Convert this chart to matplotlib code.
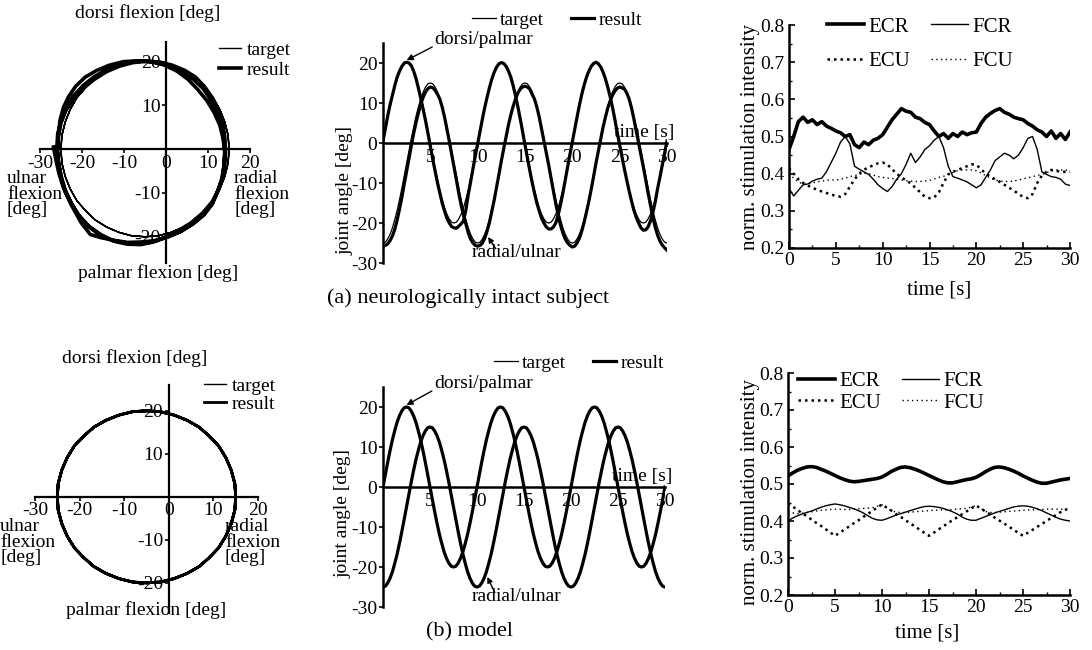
import numpy as np
import matplotlib
matplotlib.use("Agg")
import matplotlib.pyplot as plt

plt.rcParams['font.family'] = ['Liberation Serif', 'DejaVu Serif']
plt.rcParams['font.size'] = 14
plt.rcParams['axes.unicode_minus'] = False

# sample times [s]: joint angles every 0.25 s, stimulation every 0.5 s
t_ang = np.arange(0, 30.001, 0.25)
t_stim = np.arange(0, 30.001, 0.5)

# target trajectory (same for subject and model) [deg]
target_dp = [0.0, 3.1, 6.2, 9.1, 11.8, 14.1, 16.2, 17.8, 19.0, 19.8,
             20.0, 19.8, 19.0, 17.8, 16.2, 14.1, 11.8, 9.1, 6.2, 3.1,
             0.0, -3.1, -6.2, -9.1, -11.8, -14.1, -16.2, -17.8, -19.0, -19.8,
             -20.0, -19.8, -19.0, -17.8, -16.2, -14.1, -11.8, -9.1, -6.2, -3.1,
             0.0, 3.1, 6.2, 9.1, 11.8, 14.1, 16.2, 17.8, 19.0, 19.8,
             20.0, 19.8, 19.0, 17.8, 16.2, 14.1, 11.8, 9.1, 6.2, 3.1,
             0.0, -3.1, -6.2, -9.1, -11.8, -14.1, -16.2, -17.8, -19.0, -19.8,
             -20.0, -19.8, -19.0, -17.8, -16.2, -14.1, -11.8, -9.1, -6.2, -3.1,
             0.0, 3.1, 6.2, 9.1, 11.8, 14.1, 16.2, 17.8, 19.0, 19.8,
             20.0, 19.8, 19.0, 17.8, 16.2, 14.1, 11.8, 9.1, 6.2, 3.1,
             0.0, -3.1, -6.2, -9.1, -11.8, -14.1, -16.2, -17.8, -19.0, -19.8,
             -20.0, -19.8, -19.0, -17.8, -16.2, -14.1, -11.8, -9.1, -6.2, -3.1,
             0.0]
target_ru = [-25.0, -24.8, -24.0, -22.8, -21.2, -19.1, -16.8, -14.1, -11.2, -8.1,
             -5.0, -1.9, 1.2, 4.1, 6.8, 9.1, 11.2, 12.8, 14.0, 14.8,
             15.0, 14.8, 14.0, 12.8, 11.2, 9.1, 6.8, 4.1, 1.2, -1.9,
             -5.0, -8.1, -11.2, -14.1, -16.8, -19.1, -21.2, -22.8, -24.0, -24.8,
             -25.0, -24.8, -24.0, -22.8, -21.2, -19.1, -16.8, -14.1, -11.2, -8.1,
             -5.0, -1.9, 1.2, 4.1, 6.8, 9.1, 11.2, 12.8, 14.0, 14.8,
             15.0, 14.8, 14.0, 12.8, 11.2, 9.1, 6.8, 4.1, 1.2, -1.9,
             -5.0, -8.1, -11.2, -14.1, -16.8, -19.1, -21.2, -22.8, -24.0, -24.8,
             -25.0, -24.8, -24.0, -22.8, -21.2, -19.1, -16.8, -14.1, -11.2, -8.1,
             -5.0, -1.9, 1.2, 4.1, 6.8, 9.1, 11.2, 12.8, 14.0, 14.8,
             15.0, 14.8, 14.0, 12.8, 11.2, 9.1, 6.8, 4.1, 1.2, -1.9,
             -5.0, -8.1, -11.2, -14.1, -16.8, -19.1, -21.2, -22.8, -24.0, -24.8,
             -25.0]

# (a) neurologically intact subject: measured joint angles [deg]
intact_dp = [0.5, 3.6, 6.8, 9.6, 12.0, 14.4, 16.5, 18.0, 19.2, 20.0,
             20.2, 20.0, 19.3, 17.9, 16.0, 13.6, 11.0, 8.3, 5.5, 2.4,
             -0.8, -4.0, -7.0, -9.9, -12.5, -15.0, -17.0, -18.8, -20.0, -20.9,
             -21.2, -21.3, -20.8, -20.2, -19.5, -16.8, -13.0, -9.8, -6.5, -3.2,
             -0.2, 2.9, 6.0, 8.9, 11.5, 13.9, 16.0, 17.7, 19.0, 19.8,
             20.1, 19.9, 19.2, 18.0, 16.5, 14.3, 11.8, 9.0, 6.0, 2.8,
             -0.5, -3.7, -6.8, -9.8, -12.5, -15.0, -17.0, -18.8, -20.0, -21.0,
             -21.5, -21.5, -21.0, -20.0, -18.0, -15.5, -12.5, -9.3, -6.0, -2.8,
             0.3, 3.4, 6.5, 9.5, 12.2, 14.5, 16.5, 18.0, 19.2, 19.9,
             20.2, 19.8, 19.0, 17.7, 16.0, 13.9, 11.5, 8.8, 5.8, 2.6,
             -0.5, -3.5, -6.5, -9.3, -12.0, -14.5, -16.8, -18.6, -20.0, -21.2,
             -21.8, -21.7, -21.0, -19.5, -17.5, -14.8, -11.5, -8.6, -5.5, -2.5,
             0.5]
intact_ru = [-25.8, -25.6, -25.2, -24.4, -23.2, -21.5, -19.2, -16.5, -13.5, -10.2,
             -7.0, -3.8, -0.6, 2.5, 5.2, 7.6, 9.8, 11.5, 12.8, 13.6,
             14.0, 13.8, 13.2, 12.2, 11.0, 9.0, 6.5, 3.5, 0.5, -2.8,
             -6.0, -9.2, -12.5, -15.5, -18.0, -20.2, -22.4, -24.0, -25.0, -25.6,
             -25.8, -25.6, -25.0, -23.8, -22.0, -19.8, -17.0, -14.2, -11.0, -7.8,
             -4.5, -1.4, 1.5, 4.5, 7.0, 9.2, 11.0, 12.5, 13.5, 14.0,
             14.2, 14.0, 13.5, 12.2, 11.0, 9.0, 6.5, 3.5, 0.5, -2.5,
             -5.5, -8.8, -12.0, -15.2, -18.0, -20.5, -22.5, -24.0, -25.0, -25.6,
             -26.0, -25.8, -25.0, -23.8, -22.0, -19.8, -17.2, -14.5, -11.5, -8.3,
             -5.0, -2.0, 1.0, 4.0, 6.5, 8.8, 10.5, 12.0, 13.0, 13.7,
             14.0, 13.8, 13.5, 12.5, 11.0, 8.8, 6.0, 3.0, 0.0, -3.0,
             -6.0, -9.2, -12.5, -15.5, -18.5, -21.0, -23.0, -24.5, -25.5, -26.2,
             -26.8]

# (b) model: result lies on the target
model_dp = list(target_dp)
model_ru = list(target_ru)

# normalised stimulation intensity, intact subject
intact_ecr = [0.465, 0.500, 0.540, 0.552, 0.538, 0.545, 0.532, 0.540, 0.528, 0.522,
              0.515, 0.510, 0.500, 0.505, 0.478, 0.470, 0.485, 0.478, 0.490, 0.495,
              0.505, 0.525, 0.545, 0.560, 0.575, 0.568, 0.565, 0.552, 0.548, 0.538,
              0.532, 0.515, 0.500, 0.508, 0.495, 0.508, 0.500, 0.512, 0.505, 0.510,
              0.512, 0.535, 0.552, 0.562, 0.570, 0.575, 0.565, 0.560, 0.552, 0.548,
              0.545, 0.535, 0.528, 0.518, 0.512, 0.500, 0.515, 0.495, 0.508, 0.492,
              0.512]
intact_fcr = [0.360, 0.340, 0.355, 0.370, 0.372, 0.380, 0.385, 0.388, 0.405, 0.430,
              0.455, 0.485, 0.500, 0.480, 0.420, 0.412, 0.405, 0.398, 0.385, 0.370,
              0.360, 0.352, 0.365, 0.385, 0.400, 0.425, 0.455, 0.430, 0.445, 0.465,
              0.475, 0.490, 0.500, 0.470, 0.420, 0.392, 0.388, 0.383, 0.378, 0.370,
              0.362, 0.370, 0.390, 0.410, 0.435, 0.445, 0.455, 0.450, 0.440, 0.450,
              0.470, 0.495, 0.500, 0.465, 0.405, 0.398, 0.392, 0.390, 0.385, 0.372,
              0.368]
intact_ecu = [0.415, 0.400, 0.385, 0.375, 0.368, 0.362, 0.357, 0.352, 0.348, 0.344,
              0.340, 0.338, 0.345, 0.365, 0.385, 0.400, 0.410, 0.418, 0.422, 0.428,
              0.430, 0.425, 0.412, 0.400, 0.390, 0.382, 0.374, 0.362, 0.350, 0.338,
              0.334, 0.336, 0.350, 0.375, 0.398, 0.405, 0.410, 0.415, 0.420, 0.425,
              0.424, 0.412, 0.400, 0.392, 0.385, 0.378, 0.370, 0.362, 0.355, 0.345,
              0.338, 0.334, 0.345, 0.375, 0.395, 0.405, 0.410, 0.408, 0.405, 0.405,
              0.405]
intact_fcu = [0.400, 0.388, 0.378, 0.372, 0.372, 0.375, 0.378, 0.380, 0.382, 0.383,
              0.383, 0.385, 0.388, 0.392, 0.395, 0.398, 0.401, 0.400, 0.396, 0.392,
              0.390, 0.388, 0.387, 0.385, 0.383, 0.381, 0.380, 0.379, 0.379, 0.380,
              0.382, 0.386, 0.390, 0.393, 0.398, 0.403, 0.408, 0.410, 0.410, 0.410,
              0.408, 0.402, 0.395, 0.388, 0.383, 0.380, 0.379, 0.379, 0.380, 0.383,
              0.386, 0.389, 0.392, 0.395, 0.398, 0.403, 0.407, 0.410, 0.410, 0.410,
              0.408]

# normalised stimulation intensity, model
model_ecr = [0.522, 0.530, 0.537, 0.542, 0.546, 0.547, 0.545, 0.540, 0.535, 0.529,
             0.523, 0.517, 0.512, 0.508, 0.506, 0.507, 0.509, 0.511, 0.513, 0.515,
             0.519, 0.526, 0.534, 0.540, 0.545, 0.546, 0.544, 0.540, 0.535, 0.529,
             0.523, 0.517, 0.511, 0.506, 0.503, 0.503, 0.506, 0.509, 0.512, 0.514,
             0.518, 0.525, 0.533, 0.540, 0.545, 0.546, 0.544, 0.540, 0.535, 0.529,
             0.522, 0.516, 0.510, 0.505, 0.502, 0.502, 0.505, 0.508, 0.511, 0.513,
             0.515]
model_fcr = [0.400, 0.408, 0.414, 0.419, 0.423, 0.427, 0.432, 0.437, 0.441, 0.444,
             0.446, 0.444, 0.441, 0.437, 0.433, 0.428, 0.422, 0.414, 0.407, 0.403,
             0.402, 0.406, 0.411, 0.416, 0.420, 0.424, 0.428, 0.432, 0.436, 0.439,
             0.440, 0.439, 0.437, 0.434, 0.430, 0.425, 0.419, 0.411, 0.405, 0.402,
             0.402, 0.407, 0.412, 0.417, 0.422, 0.426, 0.430, 0.434, 0.438, 0.440,
             0.441, 0.440, 0.437, 0.433, 0.428, 0.422, 0.416, 0.410, 0.405, 0.402,
             0.400]
model_ecu = [0.448, 0.439, 0.430, 0.421, 0.413, 0.404, 0.395, 0.387, 0.378, 0.369,
             0.360, 0.368, 0.377, 0.385, 0.394, 0.402, 0.411, 0.419, 0.428, 0.436,
             0.445, 0.436, 0.428, 0.419, 0.411, 0.402, 0.394, 0.385, 0.377, 0.368,
             0.360, 0.368, 0.377, 0.385, 0.394, 0.402, 0.410, 0.418, 0.426, 0.434,
             0.442, 0.434, 0.426, 0.418, 0.409, 0.401, 0.393, 0.385, 0.376, 0.368,
             0.360, 0.368, 0.376, 0.384, 0.392, 0.400, 0.408, 0.416, 0.424, 0.430,
             0.435]
model_fcu = [0.425, 0.422, 0.420, 0.421, 0.423, 0.425, 0.427, 0.429, 0.430, 0.431,
             0.432, 0.432, 0.431, 0.431, 0.432, 0.433, 0.434, 0.435, 0.436, 0.440,
             0.444, 0.436, 0.428, 0.424, 0.423, 0.423, 0.424, 0.425, 0.426, 0.427,
             0.428, 0.429, 0.429, 0.430, 0.430, 0.431, 0.432, 0.433, 0.434, 0.438,
             0.442, 0.434, 0.426, 0.423, 0.423, 0.424, 0.425, 0.426, 0.427, 0.428,
             0.429, 0.430, 0.430, 0.431, 0.431, 0.432, 0.432, 0.432, 0.432, 0.432,
             0.432]

circ_xticks = [-30, -20, -10, 0, 10, 20]
circ_yticks = [-20, -10, 10, 20]
time_ticks = [5, 10, 15, 20, 25, 30]
angle_ticks = [-30, -20, -10, 0, 10, 20]
stim_xticks = [0, 5, 10, 15, 20, 25, 30]
stim_yticks = [0.2, 0.3, 0.4, 0.5, 0.6, 0.7, 0.8]

W, H = 1092, 650
fig = plt.figure(figsize=(W / 100, H / 100), dpi=100)


def box(x0, x1, ytop, ybot):
    # axes rectangle from pixel edges
    return [x0 / W, 1 - ybot / H, (x1 - x0) / W, (ybot - ytop) / H]


def ftext(x, y, s, **kw):
    fig.text(x / W, 1 - y / H, s, **kw)


def circle_panel(pos, ylim, res_ru, res_dp, res_lw, legend_at, row_gap):
    ax = fig.add_axes(pos)
    ax.patch.set_visible(False)
    ax.set_xlim(-30, 20)
    ax.set_ylim(*ylim)
    ax.spines['top'].set_visible(False)
    ax.spines['right'].set_visible(False)
    ax.spines['left'].set_position(('data', 0))
    ax.spines['bottom'].set_position(('data', 0))
    for s in ['left', 'bottom']:
        ax.spines[s].set_linewidth(1.6)
    ax.set_xticks(circ_xticks)
    ax.set_yticks(circ_yticks)
    ax.tick_params(direction='out', length=3, width=1.2, pad=1, labelsize=14)
    ax.plot(target_ru, target_dp, color='k', lw=1.0, label='target')
    ax.plot(res_ru, res_dp, color='k', lw=res_lw, label='result')
    ax.legend(loc='center', bbox_to_anchor=(legend_at[0] / W, 1 - legend_at[1] / H),
              bbox_transform=fig.transFigure, frameon=False, handlelength=1.1,
              handletextpad=0.3, labelspacing=row_gap, borderpad=0, fontsize=14)
    return ax


def angle_panel(pos, res_dp, res_ru, legend_at):
    ax = fig.add_axes(pos)
    ax.patch.set_visible(False)
    ax.set_xlim(0, 30)
    ax.set_ylim(-30, 25)
    ax.spines['top'].set_visible(False)
    ax.spines['right'].set_visible(False)
    ax.spines['bottom'].set_position(('data', 0))
    for s in ['left', 'bottom']:
        ax.spines[s].set_linewidth(1.8)
    ax.set_xticks(time_ticks)
    ax.set_yticks(angle_ticks)
    ax.tick_params(direction='out', length=3, width=1.2, pad=1, labelsize=14)
    ax.plot(t_ang, target_dp, color='k', lw=0.9, label='target')
    ax.plot(t_ang, target_ru, color='k', lw=0.9)
    ax.plot(t_ang, res_dp, color='k', lw=2.3, label='result')
    ax.plot(t_ang, res_ru, color='k', lw=2.3)
    ax.legend(loc='center', bbox_to_anchor=(legend_at[0] / W, 1 - legend_at[1] / H),
              bbox_transform=fig.transFigure, frameon=False, ncol=2,
              handlelength=1.2, handletextpad=0.2, columnspacing=1.4,
              borderpad=0, fontsize=14)
    ax.text(30.8, 0.6, 'time [s]', ha='right', va='bottom', fontsize=14)
    # arrows point at the dorsi/palmar peak (t = 2.5 s) and the radial/ulnar dip
    ax.text(5.4, 26.0, 'dorsi/palmar', ha='left', va='center', fontsize=14)
    ax.annotate('', xy=(t_ang[10], res_dp[10] + 0.5), xytext=(5.2, 24.0),
                arrowprops=dict(arrowstyle='-|>', color='k', lw=1.0, mutation_scale=9,
                                shrinkA=0, shrinkB=0), annotation_clip=False)
    ax.text(9.4, -27.3, 'radial/ulnar', ha='left', va='center', fontsize=14)
    ax.annotate('', xy=(t_ang[42] + 0.6, res_ru[42] + 1.5), xytext=(11.9, -26.4),
                arrowprops=dict(arrowstyle='-|>', color='k', lw=1.0, mutation_scale=8,
                                shrinkA=0, shrinkB=0))
    return ax


def stim_panel(pos, ecr, fcr, ecu, fcu, legend_at, row_gap):
    ax = fig.add_axes(pos)
    ax.patch.set_visible(False)
    ax.set_xlim(0, 30)
    ax.set_ylim(0.2, 0.8)
    ax.spines['top'].set_visible(False)
    ax.spines['right'].set_visible(False)
    for s in ['left', 'bottom']:
        ax.spines[s].set_linewidth(1.8)
    ax.set_xticks(stim_xticks)
    ax.set_yticks(stim_yticks)
    ax.set_xticks(np.arange(0, 30.1, 2.5), minor=True)
    ax.set_yticks(np.arange(0.2, 0.81, 0.05), minor=True)
    ax.tick_params(direction='in', length=4, width=1.2, pad=3, labelsize=14)
    ax.tick_params(which='minor', direction='in', length=2.5, width=1.0)
    l_ecr, = ax.plot(t_stim, ecr, color='k', lw=2.6, label='ECR')
    l_fcr, = ax.plot(t_stim, fcr, color='k', lw=1.0, label='FCR')
    l_ecu, = ax.plot(t_stim, ecu, color='k', lw=1.8, ls=(0, (1, 1.6)), label='ECU')
    l_fcu, = ax.plot(t_stim, fcu, color='k', lw=1.0, ls=(0, (1, 2.4)), label='FCU')
    ax.legend(handles=[l_ecr, l_ecu, l_fcr, l_fcu], loc='center',
              bbox_to_anchor=(legend_at[0] / W, 1 - legend_at[1] / H),
              bbox_transform=fig.transFigure, frameon=False, ncol=2,
              handlelength=1.8, handletextpad=0.2, columnspacing=1.0,
              labelspacing=row_gap, borderpad=0, fontsize=15)
    return ax


# (a) neurologically intact subject
circle_panel(box(40, 250, 42, 263), (-26, 24.5), intact_ru, intact_dp, 2.6, (255, 60), 0.15)
ftext(148, 13, 'dorsi flexion [deg]', ha='center', va='center', fontsize=14)
ftext(158, 273, 'palmar flexion [deg]', ha='center', va='center', fontsize=14)
ftext(7, 170, 'ulnar\nflexion\n[deg]', ha='left', va='top', fontsize=14, linespacing=0.9)
ftext(234, 170, 'radial\nflexion\n[deg]', ha='left', va='top', fontsize=14, linespacing=0.9)

angle_panel(box(383, 667, 43, 263), intact_dp, intact_ru, (557, 20))
ftext(345, 190, 'joint angle [deg]', ha='center', va='center', rotation=90, fontsize=14)

stim_panel(box(789, 1070, 25, 248), intact_ecr, intact_fcr, intact_ecu, intact_fcu,
           (920, 44), 0.7)
ftext(750, 137, 'norm. stimulation intensity', ha='center', va='center',
      rotation=90, fontsize=15)
ftext(939, 290, 'time [s]', ha='center', va='center', fontsize=15)

ftext(468, 298, '(a) neurologically intact subject', ha='center', va='center', fontsize=16)

# (b) model
circle_panel(box(35, 258, 385, 613), (-27, 26), model_ru, model_dp, 2.0, (240, 395), 0.0)
ftext(135, 358, 'dorsi flexion [deg]', ha='center', va='center', fontsize=14)
ftext(146, 610, 'palmar flexion [deg]', ha='center', va='center', fontsize=14)
ftext(0, 518, 'ulnar\nflexion\n[deg]', ha='left', va='top', fontsize=14, linespacing=0.9)
ftext(225, 518, 'radial\nflexion\n[deg]', ha='left', va='top', fontsize=14, linespacing=0.9)

angle_panel(box(383, 665, 387, 607), model_dp, model_ru, (579, 363))
ftext(343, 513, 'joint angle [deg]', ha='center', va='center', rotation=90, fontsize=14)

stim_panel(box(788, 1070, 373, 595), model_ecr, model_fcr, model_ecu, model_fcu,
           (891, 392), 0.1)
ftext(750, 492, 'norm. stimulation intensity', ha='center', va='center',
      rotation=90, fontsize=15)
ftext(927, 633, 'time [s]', ha='center', va='center', fontsize=15)

ftext(470, 632, '(b) model', ha='center', va='center', fontsize=16)

fig.savefig('out.png', dpi=100)
